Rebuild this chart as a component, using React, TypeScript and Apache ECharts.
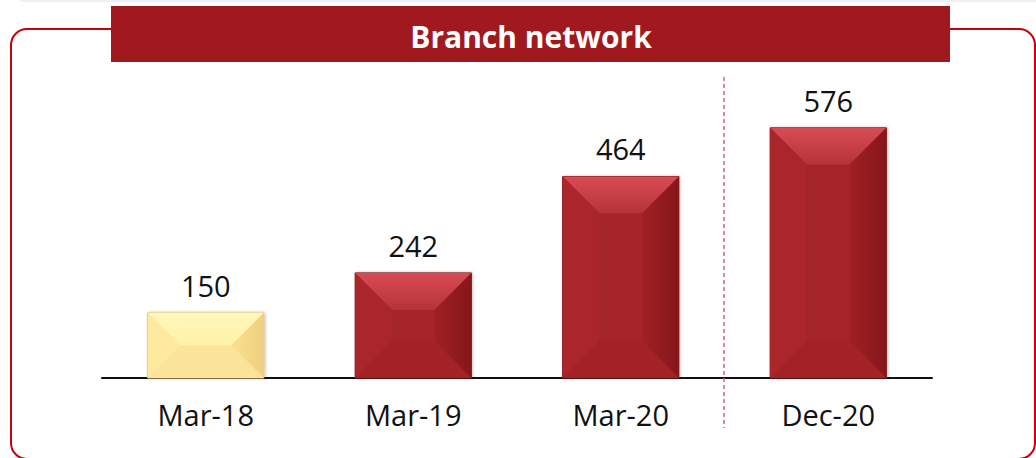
import React, { useEffect, useRef } from "react";
import * as echarts from "echarts";

const categories = ["Mar-18", "Mar-19", "Mar-20", "Dec-20"];
const branches = [150, 242, 464, 576];
const highlightIndex = [0];
const titleText = "Branch network";

const FONT = "'Open Sans', 'Noto Sans', sans-serif";

const redPal = {
  top: ["#d84c54", "#b6333a"],
  left: "#aa262b",
  right: ["#a02025", "#86161a"],
  bottom: "#a22226",
  center: "#a62529",
  edge: "#7e1418",
};
const yellowPal = {
  top: ["#fff7bc", "#fff2aa"],
  left: "#fdea9e",
  right: ["#f8e092", "#efd07e"],
  bottom: "#fbe49a",
  center: "#fde79c",
  edge: "#dcc070",
};

export default function App() {
  const ref = useRef<HTMLDivElement>(null);
  useEffect(() => {
    document.body.style.margin = "0";
    const chart = echarts.init(ref.current!, null, { renderer: "svg" });
    const renderItem = (params: any, api: any) => {
      const idx = api.value(0);
      const val = api.value(1);
      const top = api.coord([idx, val]);
      const base = api.coord([idx, 0]);
      const w = api.size([1, 0])[0] * 0.56;
      const x0 = top[0] - w / 2;
      const x1 = top[0] + w / 2;
      const y0 = top[1];
      const y1 = base[1];
      const h = y1 - y0;
      const b = Math.min(37, h / 2, w / 2);
      const pal = highlightIndex.indexOf(params.dataIndex) >= 0 ? yellowPal : redPal;
      const ix0 = x0 + b, ix1 = x1 - b, iy0 = y0 + b, iy1 = y1 - b;
      return {
        type: "group",
        children: [
          {
            type: "rect",
            shape: { x: x0, y: y0, width: w, height: h },
            style: { fill: pal.center, stroke: pal.edge, lineWidth: 1, shadowBlur: 3, shadowColor: "rgba(0,0,0,0.25)", shadowOffsetX: 1 },
          },
          {
            type: "polygon",
            shape: { points: [[x0, y0], [x1, y0], [ix1, iy0], [ix0, iy0]] },
            style: {
              fill: new echarts.graphic.LinearGradient(0, 0, 0, 1, [
                { offset: 0, color: pal.top[0] },
                { offset: 1, color: pal.top[1] },
              ]),
            },
          },
          {
            type: "polygon",
            shape: { points: [[x0, y0], [ix0, iy0], [ix0, iy1], [x0, y1]] },
            style: { fill: pal.left },
          },
          {
            type: "polygon",
            shape: { points: [[x1, y0], [x1, y1], [ix1, iy1], [ix1, iy0]] },
            style: {
              fill: new echarts.graphic.LinearGradient(0, 0, 1, 0, [
                { offset: 0, color: pal.right[0] },
                { offset: 1, color: pal.right[1] },
              ]),
            },
          },
          {
            type: "polygon",
            shape: { points: [[x0, y1], [ix0, iy1], [ix1, iy1], [x1, y1]] },
            style: { fill: pal.bottom },
          },
          {
            type: "rect",
            shape: { x: ix0, y: iy0, width: Math.max(0, ix1 - ix0), height: Math.max(0, iy1 - iy0) },
            style: { fill: pal.center },
          },
          {
            type: "text",
            style: {
              text: String(val),
              x: top[0],
              y: y0 - 13,
              align: "center",
              verticalAlign: "bottom",
              fill: "#111",
              font: `29px ${FONT}`,
            },
          },
        ],
      };
    };
    chart.setOption({
      animation: false,
      grid: { left: 102, right: 104, top: 74, bottom: 80 },
      xAxis: {
        type: "category",
        data: categories,
        axisLine: { lineStyle: { color: "#111", width: 2 } },
        axisTick: { show: false },
        axisLabel: { fontSize: 29, fontFamily: FONT, color: "#111", margin: 22 },
      },
      yAxis: { type: "value", min: 0, max: 700, show: false, splitLine: { show: false } },
      series: [
        {
          type: "custom",
          renderItem,
          data: branches.map((v, i) => [i, v]),
          encode: { x: 0, y: 1 },
          z: 3,
        },
      ],
      graphic: [
        { type: "rect", shape: { x: 20, y: 0, width: 1016, height: 2 }, style: { fill: "#f0f0f0" }, silent: true },
        {
          type: "rect",
          shape: { x: 11, y: 29, width: 1024, height: 430, r: 16 },
          style: { fill: "none", stroke: "#c8000a", lineWidth: 2 },
          z: 1,
        },
        {
          type: "rect",
          shape: { x: 111, y: 6, width: 839, height: 56 },
          style: { fill: "#a0191f" },
          z: 2,
        },
        {
          type: "text",
          style: {
            text: titleText,
            x: 531,
            y: 36,
            align: "center",
            verticalAlign: "middle",
            fill: "#fff",
            font: `bold 30px ${FONT}`,
          },
          z: 3,
        },
        {
          type: "line",
          shape: { x1: 724, y1: 77, x2: 724, y2: 428 },
          style: { stroke: "#d06a74", lineWidth: 1.5, lineDash: [4, 3] },
          z: 1,
        },
      ],
    });
    return () => chart.dispose();
  }, []);
  return <div ref={ref} style={{ width: 1036, height: 458 }} />;
}
